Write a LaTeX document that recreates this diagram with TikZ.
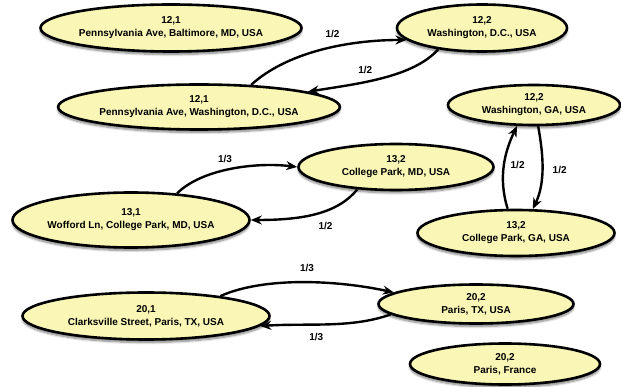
\documentclass[tikz,border=0pt]{standalone}
\usepackage{fontspec}
\setmainfont{Liberation Sans}
\usetikzlibrary{shapes.geometric,shadows.blur,arrows.meta}
\definecolor{placefill}{RGB}{250,247,182}

\begin{document}
\begin{tikzpicture}[x=1pt, y=-1pt, >={Stealth[length=11pt,width=9pt]},
  place/.style={ellipse, draw, line width=2.6pt, fill=placefill, inner sep=0pt,
    align=center, font=\fontsize{10}{13}\selectfont\bfseries,
    blur shadow={shadow xshift=0pt, shadow yshift=-3pt, shadow blur steps=6, shadow opacity=50}},
  hop/.style={->, line width=2.4pt},
  prob/.style={font=\fontsize{10}{12}\selectfont\bfseries}]
\useasboundingbox (0,0) rectangle (621,387);

% ----------------- row 1 -----------------
\node (pbal) [place, minimum width=261pt, minimum height=47pt] at (171,28) {12,1\\Pennsylvania Ave, Baltimore, MD, USA};
\node (wdc)  [place, minimum width=170pt, minimum height=47pt] at (482,28) {12,2\\Washington, D.C., USA};

% ----------------- row 2 -----------------
\node (pdc)  [place, minimum width=272pt, minimum height=45pt] at (199,107) {12,1\\Pennsylvania Ave, Washington, D.C., USA};
\node (wga)  [place, minimum width=172pt, minimum height=40pt] at (534,105) {12,2\\Washington, GA, USA};

% ----------------- row 3 -----------------
\node (cpmd) [place, minimum width=195pt, minimum height=46pt] at (396,167) {13,2\\College Park, MD, USA};
\node (wof)  [place, minimum width=237pt, minimum height=55pt] at (131,220) {13,1\\Wofford Ln, College Park, MD, USA};
\node (cpga) [place, minimum width=197pt, minimum height=46pt] at (516,233) {13,2\\College Park, GA, USA};

% ----------------- row 4 -----------------
\node (clk)  [place, minimum width=247pt, minimum height=47pt] at (146,316) {20,1\\Clarksville Street, Paris, TX, USA};
\node (ptx)  [place, minimum width=195pt, minimum height=39pt] at (476,304) {20,2\\Paris, TX, USA};
\node (pfr)  [place, minimum width=190pt, minimum height=41pt] at (505,364) {20,2\\Paris, France};

% ----------------- Arrows -----------------
\draw[hop] (pdc.23) .. controls +(35,-32) and +(-60,0) .. (wdc.189) node[prob, pos=0.58, above=5pt] (q1) {1/2};
\draw[hop] (wdc.206) .. controls +(-25,28) and +(50,-8) .. (pdc.8) node[prob, pos=0.62, above=4pt] (q2) {1/2};

\draw[hop] (wof.30) .. controls +(25,-25) and +(-40,-5) .. (cpmd.west) node[prob, pos=0.45, above=3pt] (q3) {1/3};
\draw[hop] (cpmd.210) .. controls +(-20,25) and +(50,0) .. (wof.east) node[prob, pos=0.4, below=7pt] (q4) {1/2};

\draw[hop] (cpga.109) .. controls +(-10,-32) and +(-12,25) .. (wga.231) node[prob, midway, right=2pt] (q5) {1/2};
\draw[hop] (wga.281) .. controls +(6,32) and +(12,-25) .. (cpga.55) node[prob, midway, right=6pt] (q6) {1/2};

\draw[hop] (clk.15) .. controls +(45,-20) and +(-55,-12) .. (ptx.172) node[prob, pos=0.52, above=6pt] (q7) {1/3};
\draw[hop] (ptx.187) .. controls +(-40,14) and +(50,-3) .. (clk.-5) node[prob, pos=0.6, below=4pt] (q8) {1/3};

\end{tikzpicture}
\end{document}
